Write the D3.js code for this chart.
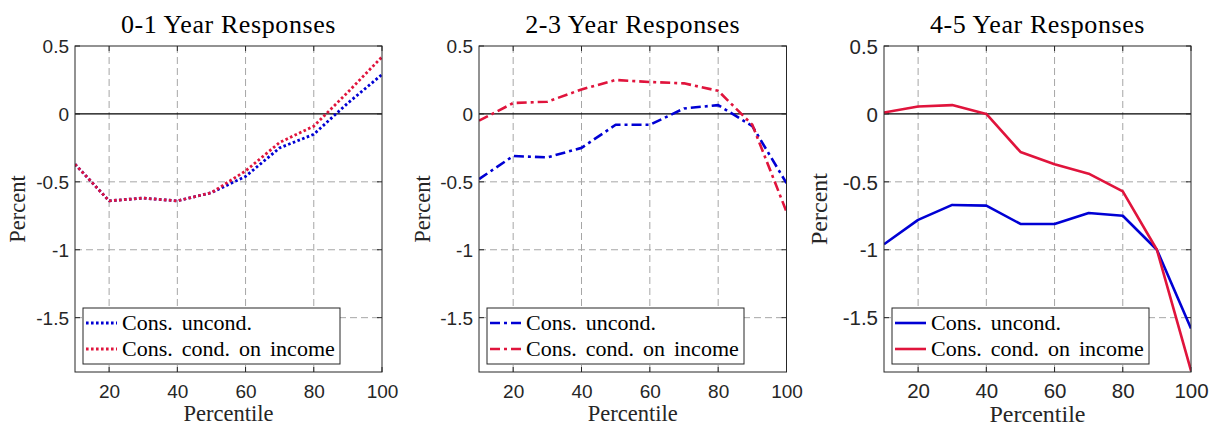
<!DOCTYPE html>
<html>
<head>
<meta charset="utf-8">
<script src="https://cdn.jsdelivr.net/npm/d3@7"></script>
<style>
  html, body { margin: 0; padding: 0; background: #fff; }
  svg { display: block; }
  .serif { font-family: "Liberation Serif", "DejaVu Serif", serif; }
  .sans { font-family: "Liberation Sans", "DejaVu Sans", sans-serif; }
</style>
</head>
<body>
<svg id="chart" width="1209" height="427"></svg>
<script>
// Percentiles of the distribution (x axis)
const percentiles = [10, 20, 30, 40, 50, 60, 70, 80, 90, 100];

// 0-1 year responses
const uncond01 = [-0.37, -0.64, -0.62, -0.64, -0.58, -0.46, -0.25, -0.15, 0.08, 0.29];
const condInc01 = [-0.37, -0.64, -0.62, -0.64, -0.58, -0.42, -0.21, -0.09, 0.16, 0.42];

// 2-3 year responses
const uncond23 = [-0.48, -0.31, -0.32, -0.25, -0.08, -0.08, 0.04, 0.065, -0.09, -0.51];
const condInc23 = [-0.05, 0.08, 0.09, 0.18, 0.25, 0.235, 0.225, 0.17, -0.08, -0.72];

// 4-5 year responses
const uncond45 = [-0.96, -0.78, -0.67, -0.675, -0.81, -0.81, -0.73, -0.75, -1.0, -1.58];
const condInc45 = [0.01, 0.055, 0.065, 0.0, -0.28, -0.37, -0.44, -0.57, -1.0, -1.89];

const panelTitles = ["0-1 Year Responses", "2-3 Year Responses", "4-5 Year Responses"];
const seriesNames = ["Cons. uncond.", "Cons. cond. on income"];
const xTicks = [20, 40, 60, 80, 100];
const yTicks = [-1.5, -1, -0.5, 0, 0.5];
const yTickLabels = ["-1.5", "-1", "-0.5", "0", "0.5"];

const BLUE = "#0000d4";
const RED = "#e0143c";
const AXIS = "#262626";

const panels = [
  { left: 75,  right: 382,   series: [uncond01, condInc01], dash: "2.6,2.4", lw: 2.8, tickFont: 19,   xlabFont: 22.5, xlabY: 421, ylabFont: 22.5, ylabX: 18 },
  { left: 479, right: 786.5, series: [uncond23, condInc23], dash: "10,4,3,4", lw: 2.6, tickFont: 19,  xlabFont: 22.5, xlabY: 421, ylabFont: 22.5, ylabX: 423 },
  { left: 884, right: 1191,  series: [uncond45, condInc45], dash: null,      lw: 2.6, tickFont: 20.5, xlabFont: 24,   xlabY: 421.5, ylabFont: 24, ylabX: 820 }
];
const plotTop = 46, plotBottom = 372;

const svg = d3.select("#chart");

panels.forEach((p, i) => {
  const x = d3.scaleLinear().domain([10, 100]).range([p.left, p.right]);
  const y = d3.scaleLinear().domain([-1.9, 0.5]).range([plotBottom, plotTop]);
  const g = svg.append("g");

  // clip region for the data lines
  const clipId = "clip" + i;
  svg.append("clipPath").attr("id", clipId)
    .append("rect").attr("x", p.left).attr("y", plotTop)
    .attr("width", p.right - p.left).attr("height", plotBottom - plotTop);

  // dashed grid
  g.append("g").selectAll("line").data(xTicks.filter(t => t < 100)).join("line")
    .attr("x1", d => x(d)).attr("x2", d => x(d))
    .attr("y1", plotTop).attr("y2", plotBottom)
    .attr("stroke", "#a6a6a6").attr("stroke-width", 1).attr("stroke-dasharray", "7,4");
  g.append("g").selectAll("line").data(yTicks.filter(t => t !== 0.5 && t !== 0)).join("line")
    .attr("x1", p.left).attr("x2", p.right)
    .attr("y1", d => y(d)).attr("y2", d => y(d))
    .attr("stroke", "#a6a6a6").attr("stroke-width", 1).attr("stroke-dasharray", "7,4");

  // zero reference line
  g.append("line")
    .attr("x1", p.left).attr("x2", p.right)
    .attr("y1", y(0)).attr("y2", y(0))
    .attr("stroke", "#000").attr("stroke-width", 1.1);

  // axes via d3 axis generators (labels only; inward ticks drawn below)
  const xAxis = d3.axisBottom(x).tickValues(xTicks).tickSize(0).tickPadding(0).tickFormat(d3.format("d"));
  const xa = g.append("g").attr("transform", `translate(0,${plotBottom})`).call(xAxis);
  xa.attr("font-family", null).attr("font-size", null);
  xa.select(".domain").remove();
  xa.selectAll("text").attr("dy", null).attr("y", 26).attr("class", "sans")
    .attr("font-size", p.tickFont).attr("fill", AXIS);

  const yAxis = d3.axisLeft(y).tickValues(yTicks).tickSize(0).tickPadding(0)
    .tickFormat((d, k) => yTickLabels[k]);
  const ya = g.append("g").attr("transform", `translate(${p.left},0)`).call(yAxis);
  ya.attr("font-family", null).attr("font-size", null);
  ya.select(".domain").remove();
  ya.selectAll("text").attr("x", -6).attr("dy", "0.35em").attr("class", "sans")
    .attr("font-size", p.tickFont).attr("fill", AXIS);

  // inward tick marks on all four sides
  const tl = 5;
  xTicks.forEach(t => {
    g.append("line").attr("x1", x(t)).attr("x2", x(t)).attr("y1", plotBottom).attr("y2", plotBottom - tl).attr("stroke", AXIS);
    g.append("line").attr("x1", x(t)).attr("x2", x(t)).attr("y1", plotTop).attr("y2", plotTop + tl).attr("stroke", AXIS);
  });
  yTicks.forEach(t => {
    g.append("line").attr("x1", p.left).attr("x2", p.left + tl).attr("y1", y(t)).attr("y2", y(t)).attr("stroke", AXIS);
    g.append("line").attr("x1", p.right).attr("x2", p.right - tl).attr("y1", y(t)).attr("y2", y(t)).attr("stroke", AXIS);
  });

  // data lines
  const line = d3.line().x((d, k) => x(percentiles[k])).y(d => y(d));
  const colors = [BLUE, RED];
  p.series.forEach((s, k) => {
    g.append("path").datum(s)
      .attr("clip-path", `url(#${clipId})`)
      .attr("d", line)
      .attr("fill", "none")
      .attr("stroke", colors[k])
      .attr("stroke-width", p.lw)
      .attr("stroke-dasharray", p.dash)
      .attr("stroke-linejoin", "round");
  });

  // plot box
  g.append("rect")
    .attr("x", p.left).attr("y", plotTop)
    .attr("width", p.right - p.left).attr("height", plotBottom - plotTop)
    .attr("fill", "none").attr("stroke", AXIS).attr("stroke-width", 1);

  // title
  g.append("text").attr("class", "serif")
    .attr("x", (p.left + p.right) / 2).attr("y", 33)
    .attr("text-anchor", "middle")
    .attr("font-size", 26).attr("letter-spacing", "0.6px").attr("fill", "#000")
    .text(panelTitles[i]);

  // axis labels
  g.append("text").attr("class", "serif")
    .attr("x", (p.left + p.right) / 2).attr("y", p.xlabY)
    .attr("text-anchor", "middle")
    .attr("font-size", p.xlabFont).attr("fill", AXIS)
    .text("Percentile");
  g.append("text").attr("class", "serif")
    .attr("transform", `translate(${p.ylabX + 7},${(plotTop + plotBottom) / 2}) rotate(-90)`)
    .attr("text-anchor", "middle")
    .attr("font-size", p.ylabFont).attr("fill", AXIS)
    .text("Percent");

  // legend
  const lx = p.left + 8, ly = 308, lw = 257, lh = 56;
  const lg = g.append("g");
  lg.append("rect").attr("x", lx).attr("y", ly).attr("width", lw).attr("height", lh)
    .attr("fill", "#fff").attr("stroke", AXIS).attr("stroke-width", 1);
  seriesNames.forEach((name, k) => {
    const ry = ly + 15 + k * 26;
    lg.append("line").attr("x1", lx + 3).attr("x2", lx + 34).attr("y1", ry).attr("y2", ry)
      .attr("stroke", colors[k]).attr("stroke-width", p.lw).attr("stroke-dasharray", p.dash);
    lg.append("text").attr("class", "serif").attr("x", lx + 39).attr("y", ry + 7)
      .attr("font-size", 22).attr("fill", "#000")
      .attr("word-spacing", "3.5px")
      .text(name);
  });
});
</script>
</body>
</html>
